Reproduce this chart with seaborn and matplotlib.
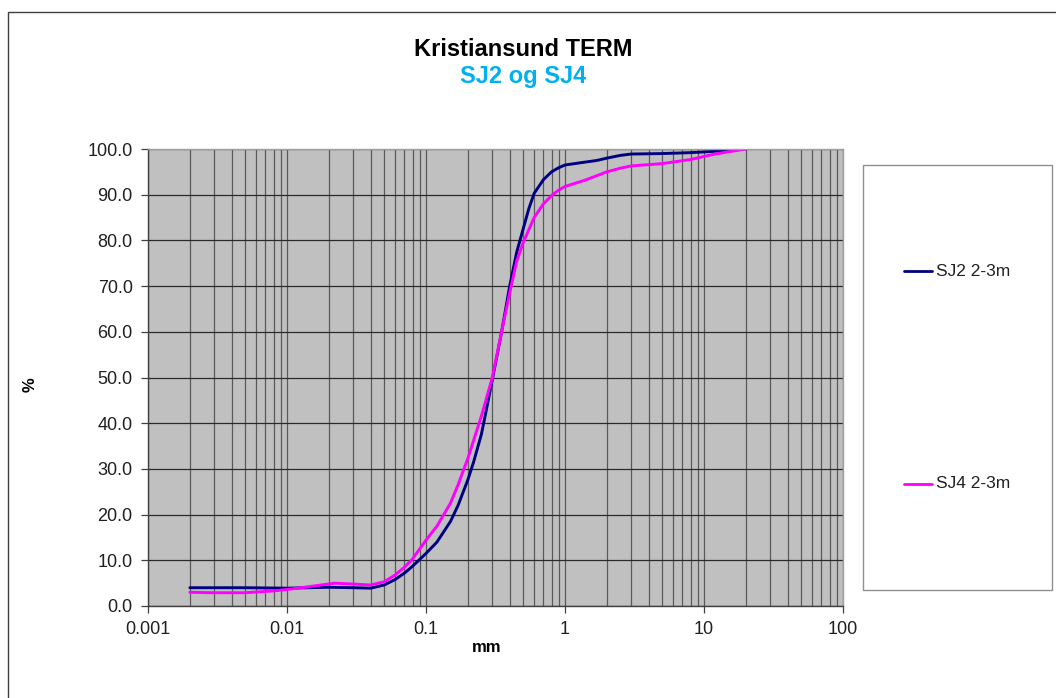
import numpy as np
import pandas as pd
import matplotlib
matplotlib.use("Agg")
import matplotlib.pyplot as plt
import matplotlib.ticker as mticker
from matplotlib.patches import Rectangle
import seaborn as sns

# ---- data ----
sj2_mm = [0.002, 0.005, 0.01, 0.02, 0.03, 0.04, 0.05, 0.06, 0.07, 0.08, 0.1, 0.12,
          0.15, 0.17, 0.2, 0.22, 0.25, 0.27, 0.3, 0.35, 0.4, 0.45, 0.5, 0.55, 0.6,
          0.7, 0.8, 0.9, 1.0, 1.3, 1.7, 2.0, 2.5, 3.0, 5.0, 8.0, 12.0, 20.0]
sj2_pct = [4.0, 4.0, 3.9, 4.1, 4.0, 3.9, 4.6, 5.8, 7.2, 8.7, 11.5, 14.0,
           18.5, 22.0, 27.6, 31.5, 37.5, 42.5, 49.5, 60.0, 70.0, 77.5, 82.5, 87.0, 90.3,
           93.3, 95.0, 95.9, 96.5, 97.0, 97.5, 98.0, 98.6, 98.9, 99.0, 99.2, 99.5, 100.0]

sj4_mm = [0.002, 0.003, 0.005, 0.008, 0.01, 0.015, 0.022, 0.03, 0.04, 0.05, 0.06,
          0.07, 0.08, 0.1, 0.12, 0.15, 0.17, 0.2, 0.25, 0.3, 0.35, 0.4, 0.45, 0.5,
          0.6, 0.7, 0.8, 0.9, 1.0, 1.4, 2.0, 2.5, 3.0, 5.0, 8.0, 12.0, 20.0]
sj4_pct = [3.0, 2.9, 2.9, 3.3, 3.6, 4.3, 5.0, 4.8, 4.6, 5.3, 6.8,
           8.5, 10.3, 14.4, 17.5, 22.5, 26.5, 32.3, 41.5, 50.0, 60.0, 68.5, 75.5, 79.5,
           85.0, 88.0, 89.8, 91.0, 91.8, 93.2, 95.0, 95.8, 96.3, 96.8, 97.7, 98.9, 100.0]

series_names = ["SJ2 2-3m", "SJ4 2-3m"]
series_colors = ["#000080", "#ff00ff"]

title_main = "Kristiansund TERM"
title_sub = "SJ2 og SJ4"
x_label = "mm"
y_label = "%"
x_tick_values = [0.001, 0.01, 0.1, 1, 10, 100]
x_tick_labels = ["0.001", "0.01", "0.1", "1", "10", "100"]
y_tick_values = list(range(0, 101, 10))

df = pd.concat([
    pd.DataFrame({"mm": sj2_mm, "pct": sj2_pct, "serie": series_names[0]}),
    pd.DataFrame({"mm": sj4_mm, "pct": sj4_pct, "serie": series_names[1]}),
], ignore_index=True)

sns.set_theme(style="white")
plt.rcParams["font.family"] = ["Liberation Sans", "DejaVu Sans"]

W, H = 1056, 698
fig = plt.figure(figsize=(W / 100, H / 100), dpi=100)

# outer chart frame
fig.patches.append(Rectangle((8 / W, -0.05), 1.1, (H - 12) / H + 0.05,
                             transform=fig.transFigure, fill=False,
                             edgecolor="#404040", linewidth=1.0))

ax = fig.add_axes([148 / W, (H - 606) / H, 695 / W, 457 / H])
ax.set_facecolor("#c0c0c0")

sns.lineplot(data=df, x="mm", y="pct", hue="serie", palette=series_colors,
             hue_order=series_names, ax=ax, linewidth=2.1, legend=False,
             estimator=None, sort=True)
for ln in ax.lines:
    ln.set_solid_joinstyle("round")
    ln.set_solid_capstyle("round")

ax.set_xscale("log")
ax.set_xlim(0.001, 100)
ax.set_ylim(0, 100)

ax.xaxis.set_major_locator(mticker.FixedLocator(x_tick_values))
ax.xaxis.set_major_formatter(mticker.FixedFormatter(x_tick_labels))
ax.xaxis.set_minor_locator(mticker.LogLocator(base=10, subs=np.arange(2, 10)))
ax.xaxis.set_minor_formatter(mticker.NullFormatter())
ax.set_yticks(y_tick_values)
ax.yaxis.set_major_formatter(mticker.FormatStrFormatter("%.1f"))

ax.grid(True, which="major", axis="y", color="#2a2a2a", linewidth=0.9)
ax.grid(True, which="both", axis="x", color="#5a5a5a", linewidth=0.9)
ax.set_axisbelow(True)

ax.tick_params(axis="both", which="major", direction="out", length=5, width=0.9,
               color="#404040", labelsize=13, labelcolor="#202020",
               bottom=True, left=True)
ax.tick_params(axis="y", which="major", pad=6)
ax.tick_params(axis="x", which="major", pad=6)
ax.tick_params(axis="x", which="minor", length=0, bottom=False)

for s in ax.spines.values():
    s.set_color("#a0a0a0")
    s.set_linewidth(1.0)
ax.spines["left"].set_color("#404040")
ax.spines["bottom"].set_color("#404040")

ax.set_xlabel("")
ax.set_ylabel("")
fig.text(487 / W, 1 - 647 / H, x_label, ha="center", va="center",
         fontsize=12, fontweight="bold", color="black")
fig.text(30 / W, 1 - 385 / H, y_label, ha="center", va="center", rotation=90,
         fontsize=12, fontweight="bold", color="black")

fig.text(523 / W, 1 - 49 / H, title_main, ha="center", va="center",
         fontsize=17, fontweight="bold", color="black")
fig.text(523 / W, 1 - 77 / H, title_sub, ha="center", va="center",
         fontsize=17, fontweight="bold", color="#00b0f0")

# legend box
fig.patches.append(Rectangle((863 / W, 1 - 590 / H), (1052 - 863) / W, (590 - 165) / H,
                             transform=fig.transFigure, facecolor="white",
                             edgecolor="#909090", linewidth=1.0))
ys = [271, 484]
for name, col, yp in zip(series_names, series_colors, ys):
    yy = 1 - yp / H
    fig.lines.append(plt.Line2D([904 / W, 932 / W], [yy, yy], transform=fig.transFigure,
                                color=col, linewidth=2.0))
    fig.text(936 / W, yy, name, ha="left", va="center", fontsize=12.5, color="#202020")

fig.savefig("out.png", dpi=100)
